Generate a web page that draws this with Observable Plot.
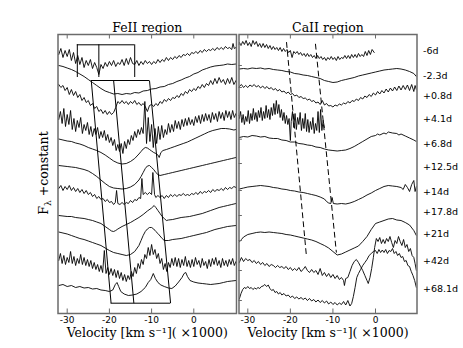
<!DOCTYPE html>
<html><head><meta charset="utf-8">
<script src="https://cdn.jsdelivr.net/npm/d3@7"></script>
<script src="https://cdn.jsdelivr.net/npm/@observablehq/plot@0.6"></script>
<style>
html,body{margin:0;padding:0;background:#fff;}
#wrap{position:relative;width:463px;height:348px;overflow:hidden;background:#fff;}
#wrap svg{position:absolute;left:0;top:0;}
#ylab{position:absolute;left:43.5px;top:173px;transform:translate(-50%,-50%) rotate(-90deg);font-family:"DejaVu Serif";font-size:12.5px;line-height:1;white-space:nowrap;color:#000;}
#ylab sub{font-size:9px;vertical-align:-3px;line-height:0;}
</style></head><body>
<div id="wrap"><div id="ylab">F<sub>λ</sub> +constant</div></div>
<script>
// ---------- labels ----------
const panelTitles = ["FeII region", "CaII region"];
const xLabel = "Velocity [km s\u207B\u00B9]( \u00D71000)";
const xTicks = [-30, -20, -10, 0];
const epochs = ["-6d","-2.3d","+0.8d","+4.1d","+6.8d","+12.5d","+14d","+17.8d","+21d","+42d","+68.1d"];
const epochLabelLevel = [26.3, 23.8, 21.8, 19.47, 16.97, 14.63, 12.13, 10.13, 7.97, 5.3, 2.47];
const caYTicks = [26.93, 24.8, 22.6, 19.8, 17.43, 15.0, 12.3, 9.8, 7.3, 4.3, 1.3];
const feDomain = [-32.18, 10.12];
const caDomain = [-32.07, 9.75];
const yDomain = [0, 27.9];

// ---------- FeII region spectra [velocity (x1000 km/s), flux + constant] ----------
const fe_m6d = [[-32,25.9],[-31.5,26.5],[-31,25.6],[-30.5,26.3],[-30,25.7],[-29.5,26.4],[-29,25.3],[-28.5,26.1],[-28,25.0],[-27.5,25.8],[-27,24.9],[-26.5,25.6],[-26,24.6],[-25.5,25.3],[-25,24.8],[-24.5,25.4],[-24,24.5],[-23.5,25.1],[-23,24.6],[-22.5,23.9],[-22,24.9],[-21.5,24.5],[-21,25.1],[-20.5,24.7],[-20,25.2],[-19.5,24.8],[-19,25.3],[-18.5,24.7],[-18,25.1],[-17.5,24.9],[-17,25.4],[-16.5,24.8],[-16,25.5],[-15.5,24.9],[-15,25.6],[-14.5,25.0],[-14,24.9],[-13.5,25.3],[-13,24.8],[-12.5,25.2],[-12,24.9],[-11.5,25.3],[-11,25.0],[-10.5,25.2],[-10,24.9],[-9.5,25.2],[-9,25.0],[-8.5,25.4],[-8,25.1],[-7.5,25.4],[-7,25.2],[-6.5,25.6],[-6,25.3],[-5.5,25.6],[-5,25.4],[-4.5,25.7],[-4,25.5],[-3.5,25.8],[-3,25.6],[-2.5,25.9],[-2,25.8],[-1.5,26.0],[-1,25.8],[-0.5,26.1],[0,26.0],[0.5,26.2],[1,26.0],[1.5,26.3],[2,26.1],[2.5,26.4],[3,26.2],[3.5,26.4],[4,26.3],[4.5,26.5],[5,26.3],[5.5,26.6],[6,26.4],[6.5,26.6],[7,26.4],[7.5,26.7],[8,26.5],[8.5,26.6],[9,26.4],[9.3,27.0],[9.6,26.5],[10,26.6]];
const fe_m2d3 = [[-32,24.8],[-31,24.7],[-30,24.55],[-29,24.4],[-28,24.2],[-27,23.95],[-26,23.7],[-25,23.4],[-24,23.1],[-23,22.8],[-22,22.5],[-21,22.25],[-20,22.1],[-19,21.95],[-18,22.0],[-17,21.9],[-16,22.0],[-15,21.95],[-14,22.1],[-13,22.05],[-12,22.25],[-11,22.3],[-10,22.45],[-9,22.5],[-8,22.65],[-7,22.7],[-6,22.9],[-5,23.0],[-4,23.2],[-3,23.35],[-2,23.55],[-1,23.7],[0,23.95],[1,24.1],[2,24.35],[3,24.5],[4,24.65],[5,24.75],[6,24.8],[7,24.85],[8,24.95],[9,24.9],[10,24.95]];
const fe_p0d8 = [[-32,22.9],[-31.5,22.6],[-31,22.8],[-30.5,22.3],[-30,22.6],[-29.5,21.9],[-29,22.4],[-28.5,21.8],[-28,22.2],[-27.5,21.6],[-27,21.9],[-26.5,21.3],[-26,21.6],[-25.5,21.1],[-25,21.3],[-24.5,20.8],[-24,21.0],[-23.5,20.5],[-23,20.7],[-22.5,20.2],[-22,20.4],[-21.5,20.0],[-21,20.3],[-20.5,19.9],[-20,20.2],[-19.5,19.9],[-19,20.1],[-18.5,20.6],[-18,21.2],[-17.5,21.0],[-17,21.3],[-16.5,21.0],[-16,21.2],[-15.5,20.9],[-15,21.2],[-14.5,21.0],[-14,21.3],[-13.5,20.9],[-13,21.1],[-12.5,20.8],[-12,21.0],[-11.5,20.7],[-11,20.2],[-10.5,20.8],[-10,20.9],[-9.5,20.7],[-9,21.0],[-8.5,20.8],[-8,21.2],[-7.5,21.0],[-7,21.4],[-6.5,21.2],[-6,21.5],[-5.5,21.3],[-5,21.6],[-4.5,21.5],[-4,21.8],[-3.5,21.6],[-3,22.0],[-2.5,21.8],[-2,22.2],[-1.5,22.0],[-1,22.4],[-0.5,22.2],[0,22.5],[0.5,22.3],[1,22.7],[1.5,22.5],[2,22.9],[2.5,22.6],[3,23.0],[3.5,22.8],[4,23.3],[4.5,22.9],[5,23.5],[5.5,23.0],[6,23.6],[6.5,23.1],[7,23.4],[7.5,22.9],[8,23.5],[8.5,23.0],[9,23.6],[9.5,22.9],[10,23.3]];
const fe_p4d1 = [[-32,19.4],[-31.6,20.2],[-31.2,19.0],[-30.8,20.5],[-30.4,18.7],[-30,19.9],[-29.6,18.9],[-29.2,20.3],[-28.8,18.4],[-28.4,19.5],[-28,18.2],[-27.6,19.3],[-27.2,18.6],[-26.8,19.6],[-26.4,18.0],[-26,18.9],[-25.6,18.3],[-25.2,19.1],[-24.8,17.9],[-24.4,18.7],[-24,17.7],[-23.6,18.5],[-23.2,17.9],[-22.8,18.6],[-22.4,17.5],[-22,18.2],[-21.6,17.6],[-21.2,18.3],[-20.8,17.3],[-20.4,17.9],[-20,17.1],[-19.6,17.6],[-19.2,16.8],[-18.8,17.4],[-18.4,16.3],[-18,16.9],[-17.6,16.2],[-17.2,17.0],[-16.8,16.0],[-16.4,17.2],[-16,16.5],[-15.6,17.4],[-15.2,16.9],[-14.8,17.8],[-14.4,17.3],[-14,18.2],[-13.6,17.6],[-13.2,18.4],[-12.8,17.9],[-12.4,18.6],[-12,18.0],[-11.6,21.2],[-11.2,17.0],[-10.8,19.6],[-10.4,17.2],[-10,18.9],[-9.6,16.6],[-9.2,18.5],[-8.8,17.0],[-8.4,18.7],[-8,17.4],[-7.6,18.8],[-7.2,17.6],[-6.8,18.4],[-6.4,17.9],[-6,19.0],[-5.6,18.1],[-5.2,18.9],[-4.8,18.2],[-4.4,19.3],[-4,18.5],[-3.6,19.2],[-3.2,18.4],[-2.8,19.4],[-2.4,18.7],[-2,19.5],[-1.6,18.8],[-1.2,19.6],[-0.8,18.9],[-0.4,19.4],[0,18.8],[0.4,19.7],[0.8,19.1],[1.2,19.8],[1.6,19.0],[2,19.9],[2.4,19.2],[2.8,20.0],[3.2,19.3],[3.6,19.9],[4,19.1],[4.4,20.1],[4.8,19.4],[5.2,20.0],[5.6,19.2],[6,20.2],[6.4,19.5],[6.8,20.1],[7.2,19.3],[7.6,20.3],[8,19.6],[8.4,20.2],[8.8,19.4],[9.2,20.3],[9.6,19.6],[10,20.0]];
const fe_p6d8 = [[-32,17.45],[-31,17.35],[-30,17.25],[-29,17.2],[-28,17.05],[-27,16.95],[-26,16.8],[-25,16.6],[-24,16.45],[-23,16.3],[-22,16.1],[-21,15.85],[-20,15.55],[-19,15.25],[-18,15.05],[-17,14.95],[-16,15.0],[-15,15.2],[-14,15.5],[-13,15.95],[-12.5,16.2],[-12,16.45],[-11.5,16.6],[-11,16.55],[-10.5,16.4],[-10,16.25],[-9.5,16.1],[-9,16.0],[-8.5,15.85],[-8.2,15.6],[-7.8,16.1],[-7.3,16.3],[-6.5,16.4],[-5.5,16.55],[-4.5,16.7],[-3.5,16.85],[-2.5,17.0],[-1.5,17.15],[-0.5,17.35],[0.5,17.55],[1.5,17.75],[2.5,17.95],[3.5,18.15],[4.5,18.3],[5.5,18.4],[6.5,18.5],[7.5,18.5],[8.5,18.45],[9.5,18.35],[10,18.4]];
const fe_p12d5 = [[-32,14.8],[-31,14.75],[-30,14.7],[-29,14.65],[-28,14.6],[-27,14.5],[-26,14.4],[-25,14.25],[-24,14.0],[-23,13.7],[-22,13.35],[-21,13.0],[-20,12.7],[-19,12.55],[-18,12.5],[-17,12.45],[-16,12.5],[-15,12.65],[-14,12.9],[-13,13.35],[-12.5,13.7],[-12,14.1],[-11.5,14.5],[-11,14.75],[-10.5,14.8],[-10,14.6],[-9.5,14.4],[-9,14.1],[-8.5,13.9],[-8,13.8],[-7,13.9],[-6,14.0],[-5,14.1],[-4,14.2],[-3,14.3],[-2,14.4],[-1,14.5],[0,14.6],[1,14.7],[2,14.8],[3,14.9],[4,15.0],[5,15.1],[6,15.2],[7,15.3],[8,15.4],[9,15.5],[10,15.6]];
const fe_p14d = [[-32,12.5],[-31.5,12.8],[-31,12.3],[-30.5,12.7],[-30,12.4],[-29.5,12.8],[-29,12.3],[-28.5,12.6],[-28,12.2],[-27.5,12.5],[-27,12.1],[-26.5,12.4],[-26,12.0],[-25.5,12.3],[-25,11.9],[-24.5,12.1],[-24,11.7],[-23.5,11.9],[-23,11.5],[-22.5,11.7],[-22,11.4],[-21.5,11.5],[-21,11.2],[-20.5,11.4],[-20,11.1],[-19.5,11.2],[-19,10.9],[-18.6,11.1],[-18.3,12.3],[-18,11.0],[-17.5,10.9],[-17,11.1],[-16.5,10.9],[-16,11.1],[-15.5,11.0],[-15,11.3],[-14.5,11.1],[-14,11.4],[-13.5,11.3],[-13,11.6],[-12.6,11.5],[-12.3,13.5],[-12,11.9],[-11.5,12.1],[-11,11.9],[-10.5,12.1],[-10,11.9],[-9.7,14.1],[-9.3,11.9],[-9,11.6],[-8.5,11.8],[-8,11.6],[-7.5,11.8],[-7,11.5],[-6.5,11.8],[-6,11.6],[-5.5,11.9],[-5,11.7],[-4.5,11.9],[-4,11.7],[-3.5,11.9],[-3,11.8],[-2.5,12.0],[-2,11.8],[-1.5,11.9],[-1,11.8],[-0.5,12.0],[0,11.9],[0.5,12.1],[1,11.9],[1.5,12.2],[2,12.0],[2.5,12.2],[3,12.1],[3.5,12.3],[4,12.1],[4.5,12.4],[5,12.2],[5.5,12.4],[6,12.3],[6.5,12.5],[7,12.3],[7.5,12.6],[8,12.4],[8.5,12.6],[9,12.5],[9.5,12.7],[10,12.6]];
const fe_p17d8 = [[-32,9.8],[-31,9.75],[-30,9.7],[-29,9.7],[-28,9.6],[-27,9.55],[-26,9.5],[-25,9.4],[-24,9.3],[-23,9.15],[-22,9.0],[-21,8.7],[-20,8.4],[-19.5,8.25],[-19,8.2],[-18.5,8.3],[-18,8.45],[-17,8.7],[-16,8.9],[-15,9.1],[-14,9.35],[-13,9.6],[-12,9.9],[-11,10.25],[-10,10.55],[-9.4,10.8],[-9,10.6],[-8.5,10.3],[-8,10.0],[-7.5,9.7],[-7,9.5],[-6.5,9.3],[-6,9.35],[-5,9.4],[-4,9.5],[-3,9.6],[-2,9.65],[-1,9.7],[0,9.8],[1,9.9],[2,10.0],[3,10.15],[4,10.3],[5,10.45],[6,10.6],[7,10.7],[8,10.8],[9,10.9],[10,11.0]];
const fe_p21d = [[-32,8.15],[-31,8.05],[-30,7.95],[-29,7.8],[-28,7.65],[-27,7.5],[-26,7.4],[-25,7.25],[-24,7.1],[-23,6.95],[-22,6.8],[-21,6.55],[-20,6.3],[-19,6.1],[-18,6.0],[-17,5.9],[-16,5.8],[-15,5.9],[-14,6.2],[-13,6.8],[-12.5,7.3],[-12,7.8],[-11.5,8.2],[-11,8.45],[-10.5,8.6],[-10,8.6],[-9.5,8.45],[-9,8.2],[-8.5,8.0],[-8,7.75],[-7.5,7.5],[-7,7.3],[-6,7.3],[-5,7.4],[-4,7.45],[-3,7.5],[-2,7.6],[-1,7.7],[0,7.8],[1,7.9],[2,8.0],[3,8.1],[4,8.25],[5,8.4],[6,8.5],[7,8.6],[8,8.7],[9,8.75],[10,8.8]];
const fe_p42d = [[-32,5.3],[-31.6,6.0],[-31.2,5.0],[-30.8,5.8],[-30.4,4.9],[-30,5.6],[-29.6,5.1],[-29.2,6.2],[-28.8,5.0],[-28.4,5.7],[-28,4.8],[-27.6,5.5],[-27.2,5.0],[-26.8,5.9],[-26.4,4.9],[-26,5.6],[-25.6,4.8],[-25.2,5.4],[-24.8,4.7],[-24.4,5.3],[-24,4.5],[-23.6,5.1],[-23.2,4.4],[-22.8,4.9],[-22.4,4.2],[-22,4.8],[-21.6,4.1],[-21.2,6.3],[-20.8,4.0],[-20.4,4.6],[-20,3.9],[-19.6,4.5],[-19.2,3.8],[-18.8,4.4],[-18.4,3.6],[-18,4.3],[-17.6,3.5],[-17.2,4.1],[-16.8,3.3],[-16.4,3.9],[-16,3.2],[-15.6,3.8],[-15.2,3.4],[-14.8,4.2],[-14.4,3.7],[-14,4.6],[-13.6,4.0],[-13.2,5.0],[-12.8,4.5],[-12.4,5.4],[-12,4.9],[-11.6,5.9],[-11.2,5.5],[-10.8,6.6],[-10.4,5.8],[-10,6.9],[-9.6,5.9],[-9.2,6.4],[-8.8,5.5],[-8.4,6.0],[-8,5.0],[-7.6,5.5],[-7.2,4.4],[-6.8,5.0],[-6.4,4.2],[-6,5.1],[-5.6,4.6],[-5.2,5.5],[-4.8,4.8],[-4.4,5.6],[-4,4.7],[-3.6,5.5],[-3.2,4.6],[-2.8,5.4],[-2.4,4.8],[-2,5.7],[-1.6,4.7],[-1.2,5.3],[-0.8,4.6],[-0.4,5.4],[0,4.7],[0.4,5.6],[0.8,4.9],[1.2,5.3],[1.6,4.6],[2,5.5],[2.4,4.8],[2.8,5.2],[3.2,4.5],[3.6,5.4],[4,4.7],[4.4,5.5],[4.8,4.9],[5.2,5.6],[5.6,4.8],[6,5.3],[6.4,4.6],[6.8,5.5],[7.2,4.8],[7.6,5.3],[8,4.7],[8.4,5.4],[8.8,4.9],[9.2,5.5],[9.6,4.8],[10,5.2]];
const fe_p68d1 = [[-32,2.8],[-31,2.9],[-30,2.7],[-29,2.8],[-28,2.6],[-27,2.7],[-26,2.55],[-25,2.6],[-24,2.45],[-23,2.5],[-22,2.35],[-21,2.3],[-20,2.2],[-19.2,2.35],[-18.6,2.9],[-18.2,3.1],[-17.8,2.7],[-17.3,2.2],[-16.5,1.95],[-15.5,1.8],[-14.5,1.85],[-13.5,1.95],[-12.5,2.2],[-11.5,2.6],[-10.8,3.1],[-10.2,3.4],[-9.6,4.0],[-9.1,3.5],[-8.5,3.1],[-7.8,2.85],[-7,2.7],[-6,2.55],[-5.2,2.5],[-4.4,2.75],[-3.6,3.15],[-2.8,3.6],[-2.3,4.0],[-1.9,4.1],[-1.5,3.7],[-0.9,3.3],[0,3.15],[1,3.05],[2,3.0],[3,2.95],[4,2.9],[5,2.95],[6,3.0],[7,3.1],[8,3.2],[9,3.25],[10,3.3]];

// ---------- CaII region spectra ----------
const ca_m6d = [[-32,27.1],[-31.6,26.8],[-31.2,27.2],[-30.8,26.9],[-30.4,27.3],[-30,26.8],[-29.6,27.1],[-29.2,26.7],[-28.8,27.3],[-28.4,26.9],[-28,27.2],[-27.6,26.7],[-27.2,27.0],[-26.8,26.6],[-26.4,27.0],[-26,26.6],[-25.6,26.9],[-25.2,26.5],[-24.8,26.8],[-24.4,26.4],[-24,26.7],[-23.6,26.4],[-23.2,26.6],[-22.8,26.3],[-22.4,26.6],[-22,26.2],[-21.6,26.5],[-21.2,26.2],[-20.8,26.4],[-20.4,26.1],[-20,26.3],[-19.6,25.6],[-19.2,26.2],[-18.8,26.0],[-18.4,26.2],[-18,25.9],[-17.6,26.1],[-17.2,25.8],[-16.8,26.0],[-16.4,25.7],[-16,26.0],[-15.6,25.7],[-15.2,25.9],[-14.8,25.6],[-14.4,25.8],[-14,25.5],[-13.6,25.8],[-13.2,25.5],[-12.8,25.7],[-12.4,25.4],[-12,25.6],[-11.6,25.3],[-11.2,25.6],[-10.8,25.4],[-10.4,25.7],[-10,25.4],[-9.6,25.6],[-9.2,25.3],[-8.8,25.7],[-8.4,25.4],[-8,25.6],[-7.6,25.5],[-7.2,25.8],[-6.8,25.5],[-6.4,25.8],[-6,25.5],[-5.6,25.9],[-5.2,25.6],[-4.8,25.9],[-4.4,25.6],[-4,26.0],[-3.6,25.7],[-3.2,25.9],[-2.8,25.7],[-2.4,26.2],[-2,25.8],[-1.6,26.3],[-1.2,25.9],[-0.8,26.4],[-0.3,26.1]];
const ca_m2d3 = [[-32,24.45],[-31,24.5],[-30,24.45],[-29,24.55],[-28,24.5],[-27,24.55],[-26,24.45],[-25,24.5],[-24,24.4],[-23,24.35],[-22,24.3],[-21,24.2],[-20,24.15],[-19,24.0],[-18,23.95],[-17,23.85],[-16,23.8],[-15,23.7],[-14,23.6],[-13,23.5],[-12,23.3],[-11,23.2],[-10,23.1],[-9,23.15],[-8,23.3],[-7,23.4],[-6,23.5],[-5,23.6],[-4,23.75],[-3,23.85],[-2,23.95],[-1,24.05],[0,24.15],[1,24.25],[2,24.35],[3,24.4],[4,24.45],[5,24.5],[6,24.45],[7,24.35],[8,24.2],[9,24.0],[9.6,23.7]];
const ca_p0d8 = [[-32,22.7],[-31.5,22.9],[-31,22.6],[-30.5,22.8],[-30,22.6],[-29.5,22.85],[-29,22.7],[-28.5,22.9],[-28,22.65],[-27.5,22.8],[-27,22.55],[-26.5,22.75],[-26,22.5],[-25.5,22.7],[-25,22.45],[-24.5,22.6],[-24,22.35],[-23.5,22.5],[-23,22.25],[-22.5,22.4],[-22,22.15],[-21.5,22.25],[-21,22.0],[-20.5,22.15],[-20,21.9],[-19.5,22.0],[-19,21.75],[-18.5,21.85],[-18,21.6],[-17.5,21.7],[-17,21.5],[-16.5,21.55],[-16,21.35],[-15.5,21.45],[-15,21.2],[-14.5,21.3],[-14,21.05],[-13.5,21.15],[-13,20.9],[-12.5,21.3],[-12,20.85],[-11.5,21.0],[-11,20.75],[-10.5,20.8],[-10,20.65],[-9.5,20.85],[-9,20.75],[-8.5,20.95],[-8,20.85],[-7.5,21.05],[-7,20.95],[-6.5,21.2],[-6,21.05],[-5.5,21.3],[-5,21.2],[-4.5,21.45],[-4,21.3],[-3.5,21.6],[-3,21.45],[-2.5,21.75],[-2,21.6],[-1.5,21.9],[-1,21.7],[-0.5,22.05],[0,21.85],[0.5,22.2],[1,21.95],[1.5,22.3],[2,22.05],[2.5,22.45],[3,22.15],[3.5,22.55],[4,22.25],[4.5,22.65],[5,22.3],[5.5,22.75],[6,22.35],[6.5,22.8],[7,22.4],[7.5,22.85],[8,22.3],[8.5,22.9],[9,22.2],[9.3,22.8],[9.6,22.4]];
const ca_p4d1 = [[-32,19.5],[-31.7,20.2],[-31.4,19.1],[-31.1,19.9],[-30.8,18.9],[-30.5,19.7],[-30.2,19.2],[-29.9,20.3],[-29.6,19.0],[-29.3,20.0],[-29,19.3],[-28.7,20.5],[-28.4,19.4],[-28.1,20.1],[-27.8,19.2],[-27.5,20.3],[-27.2,19.6],[-26.9,20.6],[-26.6,19.3],[-26.3,20.2],[-26,19.5],[-25.7,20.8],[-25.4,19.6],[-25.1,20.4],[-24.8,19.4],[-24.5,20.6],[-24.2,19.8],[-23.9,21.0],[-23.6,19.9],[-23.3,21.3],[-23,20.0],[-22.7,20.9],[-22.4,19.6],[-22.1,20.4],[-21.8,19.3],[-21.5,20.1],[-21.2,19.0],[-20.9,19.8],[-20.6,18.9],[-20.3,19.5],[-20,17.3],[-19.8,19.2],[-19.5,20.2],[-19.2,18.6],[-18.9,20.0],[-18.6,18.4],[-18.3,19.6],[-18,18.9],[-17.7,20.1],[-17.4,18.3],[-17.1,19.5],[-16.8,18.5],[-16.5,20.0],[-16.2,18.2],[-15.9,19.4],[-15.6,18.1],[-15.3,19.2],[-15,18.4],[-14.7,19.6],[-14.4,18.0],[-14.1,19.0],[-13.8,18.3],[-13.5,20.2],[-13.2,18.1],[-12.9,20.4],[-12.6,18.3],[-12.3,19.3],[-12,18.6]];
const ca_p6d8 = [[-32,17.6],[-31,17.7],[-30,17.65],[-29,17.8],[-28,17.75],[-27,17.65],[-26,17.7],[-25,17.55],[-24,17.5],[-23,17.5],[-22,17.35],[-21,17.3],[-20,17.15],[-19,17.15],[-18,17.0],[-17,16.95],[-16,16.85],[-15,16.8],[-14,16.65],[-13,16.6],[-12,16.45],[-11,16.35],[-10,16.3],[-9,16.25],[-8,16.3],[-7,16.35],[-6,16.5],[-5,16.7],[-4,16.95],[-3,17.2],[-2,17.45],[-1,17.7],[0,17.8],[0.5,17.95],[1,17.85],[2,18.05],[2.5,17.95],[3,18.15],[4,18.05],[5,18.0],[5.5,17.85],[6,17.95],[7,17.75],[8,17.55],[9,17.35],[9.6,17.2]];
const ca_p14d = [[-32,12.45],[-31,12.55],[-30,12.65],[-29,12.7],[-28,12.75],[-27,12.8],[-26,12.75],[-25,12.7],[-24,12.6],[-23,12.55],[-22,12.45],[-21,12.4],[-20,12.3],[-19,12.25],[-18,12.15],[-17,12.1],[-16,12.0],[-15,11.9],[-14,11.8],[-13,11.65],[-12,11.45],[-11.5,11.2],[-11,11.05],[-10.5,11.0],[-10.2,11.6],[-9.9,11.0],[-9,10.95],[-8,11.0],[-7,10.95],[-6,11.05],[-5,11.2],[-4,11.4],[-3,11.6],[-2,11.85],[-1,12.05],[0,12.3],[1,12.5],[2,12.7],[3,12.8],[4,12.75],[5,12.7],[6,12.6],[6.5,12.4],[7,12.9],[7.5,12.6],[8,12.2],[8.5,12.9],[9,13.3],[9.3,12.2],[9.6,12.7]];
const ca_p21d = [[-32,7.15],[-31.5,7.4],[-31,7.65],[-30,7.9],[-29,8.0],[-28,8.1],[-27,8.15],[-26,8.1],[-25,8.15],[-24,8.1],[-23,8.05],[-22,8.0],[-21,7.9],[-20,7.85],[-19,7.75],[-18,7.65],[-17,7.55],[-16,7.45],[-15,7.35],[-14,7.2],[-13,7.0],[-12,6.8],[-11,6.55],[-10,6.2],[-9,5.85],[-8,5.95],[-7,6.15],[-6,6.35],[-5,6.55],[-4,6.75],[-3,7.2],[-2,7.7],[-1,8.4],[0,9.0],[1,9.15],[2,9.3],[3,9.45],[4,9.5],[5,9.35],[6,9.3],[7,9.1],[8,8.85],[9,8.3],[9.6,7.8]];
const ca_p42d = [[-32,5.1],[-31.5,5.6],[-31,5.2],[-30.5,5.5],[-30,5.3],[-29.5,5.4],[-29,5.1],[-28.5,5.3],[-28,5.0],[-27.5,5.2],[-27,4.9],[-26.5,5.1],[-26,4.8],[-25.5,5.0],[-25,4.7],[-24.5,4.9],[-24,4.8],[-23.5,4.6],[-23,4.8],[-22.5,4.6],[-22,4.7],[-21.5,4.5],[-21,4.7],[-20.5,4.4],[-20,4.6],[-19.5,4.3],[-19,4.5],[-18.5,4.3],[-18,4.6],[-17.5,4.2],[-17,4.4],[-16.5,4.7],[-16,4.3],[-15.5,4.1],[-15,4.4],[-14.5,4.1],[-14,4.3],[-13.5,3.9],[-13,4.5],[-12.5,3.8],[-12,4.1],[-11.5,3.7],[-11,4.0],[-10.5,3.6],[-10,3.9],[-9.5,3.5],[-9,3.8],[-8.5,3.4],[-8,3.6],[-7.5,3.3],[-7.3,2.8],[-7,3.5],[-6.5,3.6],[-6,4.2],[-5.5,4.8],[-5,5.2],[-4.5,5.4],[-4,5.1],[-3.5,4.7],[-3,4.3],[-2.5,3.8],[-2,3.3],[-1.7,3.0],[-1.3,3.6],[-0.9,4.5],[-0.5,5.6],[-0.2,6.6],[0.2,7.5],[0.6,7.2],[1,7.6],[1.4,7.0],[1.8,7.4],[2.2,7.0],[2.6,7.5],[3,7.2],[3.4,7.7],[3.8,7.1],[4.2,6.6],[4.6,7.3],[5,7.0],[5.4,7.7],[5.8,7.2],[6.2,6.8],[6.6,7.4],[7,6.6],[7.4,6.9],[7.8,6.2],[8.2,6.5],[8.6,5.8],[9,5.6],[9.3,5.0],[9.6,4.3]];
const ca_p68d1 = [[-32,1.45],[-31.6,2.0],[-31.2,2.4],[-30.8,2.6],[-30.4,2.5],[-30,2.7],[-29.6,2.5],[-29.2,2.6],[-28.8,2.4],[-28.4,2.55],[-28,2.45],[-27.6,2.6],[-27.2,2.5],[-26.8,2.7],[-26.4,2.75],[-26,2.9],[-25.6,2.7],[-25.2,2.85],[-24.8,2.5],[-24.4,2.3],[-24,2.4],[-23.6,2.1],[-23.2,2.2],[-22.8,1.95],[-22.4,2.1],[-22,1.85],[-21.5,2.0],[-21,1.75],[-20.5,1.85],[-20,1.6],[-19.5,1.75],[-19,1.5],[-18.5,1.65],[-18,1.45],[-17.5,1.6],[-17,1.4],[-16.5,1.55],[-16,1.3],[-15.5,1.5],[-15,1.25],[-14.5,1.4],[-14,1.15],[-13.5,1.35],[-13,1.1],[-12.5,1.3],[-12,1.05],[-11.5,1.25],[-11,0.95],[-10.5,1.15],[-10,0.9],[-9.5,1.1],[-9,0.85],[-8.5,1.05],[-8,0.9],[-7.5,1.2],[-7,0.85],[-6.5,1.3],[-6,0.75],[-5.6,1.0],[-5.2,1.7],[-4.8,2.6],[-4.4,3.6],[-4,4.0],[-3.5,4.4],[-3,4.8],[-2.5,5.1],[-2,5.4],[-1.5,5.8],[-1,6.0],[-0.5,6.2],[0,6.3],[0.4,6.0],[0.8,6.4],[1.2,6.1],[1.6,6.35],[2,6.1],[2.4,6.4],[2.8,6.0],[3.2,6.3],[3.6,6.2],[4,6.5],[4.4,6.0],[4.8,6.2],[5.2,5.8],[5.6,6.0],[6,5.6],[6.4,5.7],[6.8,5.2],[7.2,5.3],[7.6,4.8],[8,4.7],[8.4,4.2],[8.8,3.8],[9.2,3.3],[9.6,2.6]];

// ---------- velocity markers ----------
const feBox1X = [-27.6, -22.5, -14.0];
const feBox1Y = [23.6, 26.87];
const feBox2TopX = [-24.3, -19.0, -10.5];
const feBox2BottomX = [-19.6, -14.2, -5.5];
const feBox2Y = [1.03, 23.3];
const caDash1 = [[-20.9, 27.1], [-16.2, 5.6]];
const caDash2 = [[-14.1, 26.93], [-9.2, 6.13]];

const feSeries = [["-6d",fe_m6d],["-2.3d",fe_m2d3],["+0.8d",fe_p0d8],["+4.1d",fe_p4d1],["+6.8d",fe_p6d8],["+12.5d",fe_p12d5],["+14d",fe_p14d],["+17.8d",fe_p17d8],["+21d",fe_p21d],["+42d",fe_p42d],["+68.1d",fe_p68d1]];
const caSeries = [["-6d",ca_m6d],["-2.3d",ca_m2d3],["+0.8d",ca_p0d8],["+4.1d",ca_p4d1],["+6.8d",ca_p6d8],["+14d",ca_p14d],["+21d",ca_p21d],["+42d",ca_p42d],["+68.1d",ca_p68d1]];
const toRows = s => s.flatMap(([epoch, pts]) => pts.map(([v, f]) => ({epoch, v, f})));

const serif = "DejaVu Serif";
const sans = "DejaVu Sans";
const spineColor = "#6b6b6b";

function commonMarks(domain, title) {
  const tl = 0.45; // inward tick length (flux units)
  const tx = (domain[1] - domain[0]) * 0.0;
  return [
    Plot.ruleX(xTicks, {x: d => d, y1: yDomain[0], y2: yDomain[0] + tl, stroke: spineColor, strokeWidth: 1}),
    Plot.ruleX(xTicks, {x: d => d, y1: yDomain[1] - tl, y2: yDomain[1], stroke: spineColor, strokeWidth: 1}),
    Plot.axisX({ticks: xTicks, tickSize: 0, tickPadding: 3, tickFormat: d => String(d), fontFamily: sans, fontSize: 9, label: null, anchor: "bottom", color: "#000"}),
    Plot.text([title], {frameAnchor: "top", dy: -11.3, text: d => d, fontFamily: serif, fontSize: 12.5, fill: "#000"}),
    Plot.text([xLabel], {frameAnchor: "bottom", dy: 23.5, text: d => d, fontFamily: serif, fontSize: 12.5, fill: "#000"}),
    Plot.frame({stroke: spineColor, strokeWidth: 1.5})
  ];
}

const left = Plot.plot({
  width: 463, height: 348,
  marginLeft: 57.5, marginRight: 227, marginTop: 34, marginBottom: 35,
  x: {domain: feDomain, axis: null},
  y: {domain: yDomain, axis: null},
  style: {background: "transparent", overflow: "visible"},
  marks: [
    Plot.line(toRows(feSeries), {x: "v", y: "f", z: "epoch", stroke: "#000", strokeWidth: 0.9, clip: true}),
    Plot.ruleY([feBox1Y[1]], {x1: feBox1X[0], x2: feBox1X[2], stroke: "#000", strokeWidth: 1}),
    Plot.ruleX(feBox1X, {x: d => d, y1: feBox1Y[0], y2: feBox1Y[1], stroke: "#000", strokeWidth: 1}),
    Plot.ruleY([feBox2Y[1]], {x1: feBox2TopX[0], x2: feBox2TopX[2], stroke: "#000", strokeWidth: 1}),
    Plot.ruleY([feBox2Y[0]], {x1: feBox2BottomX[0], x2: feBox2BottomX[2], stroke: "#000", strokeWidth: 1}),
    Plot.link(d3.range(feBox2TopX.length), {x1: i => feBox2TopX[i], y1: feBox2Y[1], x2: i => feBox2BottomX[i], y2: feBox2Y[0], stroke: "#000", strokeWidth: 1}),
    ...commonMarks(feDomain, panelTitles[0])
  ]
});

const right = Plot.plot({
  width: 463, height: 348,
  marginLeft: 238.5, marginRight: 46.5, marginTop: 34, marginBottom: 35,
  x: {domain: caDomain, axis: null},
  y: {domain: yDomain, axis: null},
  style: {background: "transparent", overflow: "visible"},
  marks: [
    Plot.line(toRows(caSeries), {x: "v", y: "f", z: "epoch", stroke: "#000", strokeWidth: 0.9, clip: true}),
    Plot.line(caDash1, {x: d => d[0], y: d => d[1], stroke: "#000", strokeWidth: 1, strokeDasharray: "5,4"}),
    Plot.line(caDash2, {x: d => d[0], y: d => d[1], stroke: "#000", strokeWidth: 1, strokeDasharray: "5,4"}),
    Plot.ruleY(caYTicks, {y: d => d, x1: caDomain[0], x2: caDomain[0] + 0.8, stroke: spineColor, strokeWidth: 1}),
    Plot.text(epochs, {y: (d, i) => epochLabelLevel[i], text: d => d, frameAnchor: "right", dx: 6, textAnchor: "start", fontFamily: sans, fontSize: 9.5, fill: "#000"}),
    ...commonMarks(caDomain, panelTitles[1])
  ]
});

const wrap = document.getElementById("wrap");
wrap.appendChild(left);
wrap.appendChild(right);
</script>
</body></html>
